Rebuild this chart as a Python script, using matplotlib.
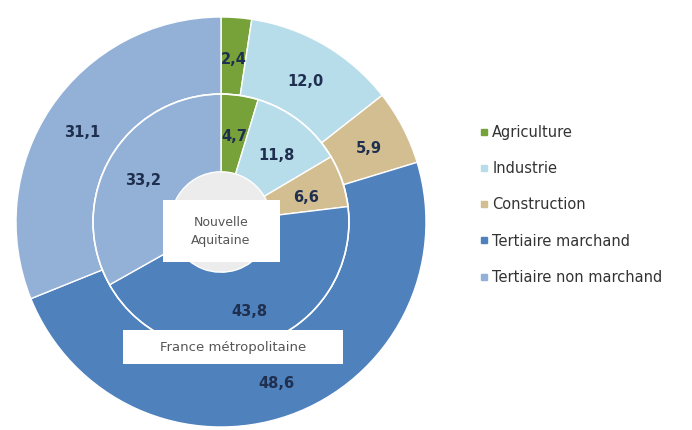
import matplotlib
matplotlib.use("Agg")
import matplotlib.pyplot as plt
from matplotlib.lines import Line2D
from matplotlib.patches import Rectangle
import numpy as np

categories = ["Agriculture", "Industrie", "Construction",
              "Tertiaire marchand", "Tertiaire non marchand"]
france = [2.4, 12.0, 5.9, 48.6, 31.1]
aquitaine = [4.7, 11.8, 6.6, 43.8, 33.2]
colors = ["#77A23A", "#B8DDEA", "#D3BE92", "#4F81BD", "#93B1D6"]

fig = plt.figure(figsize=(6.92, 4.30), dpi=100)
ax = fig.add_axes([16 / 692, 3 / 430, 410 / 692, 410 / 430])

r_in = 0.624
hole = 0.245

outer, _ = ax.pie(france, radius=1.0, colors=colors, startangle=90,
                  counterclock=False,
                  wedgeprops=dict(width=1.0 - r_in, edgecolor="white", linewidth=1))
inner, _ = ax.pie(aquitaine, radius=r_in, colors=colors, startangle=90,
                  counterclock=False,
                  wedgeprops=dict(width=r_in - hole, edgecolor="white", linewidth=1))
ax.add_patch(plt.Circle((0, 0), r_in, fill=False, edgecolor="white", lw=1.2, alpha=0.8))
ax.add_patch(plt.Circle((0, 0), hole, color="#ECECEC", zorder=0))
# pie() resets the limits, so fix them afterwards
ax.set_xlim(-1, 1)
ax.set_ylim(-1, 1)
ax.set_aspect("equal")
ax.axis("off")

def fmt(v):
    return f"{v:.1f}".replace(".", ",")

def put_labels(wedges, values, r):
    for w, v in zip(wedges, values):
        a = np.deg2rad((w.theta1 + w.theta2) / 2)
        ax.text(r * np.cos(a), r * np.sin(a) - 0.02, fmt(v), ha="center", va="center",
                fontsize=10.5, fontweight="bold", color="#1F2F4F", zorder=5)

put_labels(outer, france, 0.815)
put_labels(inner, aquitaine, 0.44)

# label boxes
ax.add_patch(Rectangle((-0.283, -0.195), 0.571, 0.302, fc="white", ec="none", zorder=4))
ax.text(0.0, -0.044, "Nouvelle\nAquitaine", ha="center", va="center", fontsize=9,
        color="#555555", linespacing=1.5, zorder=5)
ax.add_patch(Rectangle((-0.478, -0.693), 1.073, 0.166, fc="white", ec="none", zorder=4))
ax.text(0.058, -0.61, "France métropolitaine", ha="center", va="center", fontsize=9.5,
        color="#555555", zorder=5)

handles = [Line2D([], [], marker="s", linestyle="", markersize=4.5,
                  markerfacecolor=c, markeredgecolor=c) for c in colors]
fig.legend(handles, categories, loc="upper left",
           bbox_to_anchor=(466 / 692, 1 - 112 / 430), frameon=False,
           fontsize=10.5, labelspacing=1.45, handlelength=0.6, handletextpad=0.3,
           labelcolor="#333333")

fig.savefig("out.png", dpi=100)
